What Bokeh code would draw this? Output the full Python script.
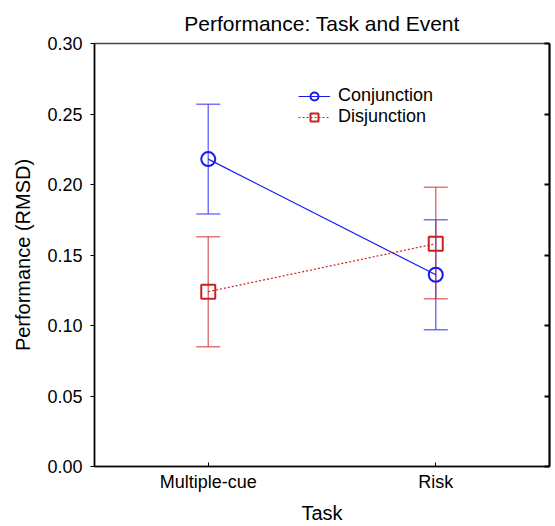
from bokeh.plotting import figure
from bokeh.models import (ColumnDataSource, Whisker, TeeHead, LinearAxis, Legend,
                          LegendItem, FixedTicker, NumeralTickFormatter, Range1d, FactorRange)
from bokeh.embed import file_html
from bokeh.resources import INLINE

# Mean RMSD per task, with error bar bounds
tasks = ["Multiple-cue", "Risk"]
conj_mean = [0.218, 0.136]
conj_low = [0.179, 0.097]
conj_high = [0.257, 0.175]
disj_mean = [0.124, 0.158]
disj_low = [0.085, 0.119]
disj_high = [0.163, 0.198]
y_ticks = [0.00, 0.05, 0.10, 0.15, 0.20, 0.25, 0.30]

FONT = "Liberation Sans"
BLUE = "#1a1aee"
RED = "#cc2020"

conj = ColumnDataSource(dict(task=tasks, mean=conj_mean, low=conj_low, high=conj_high))
disj = ColumnDataSource(dict(task=tasks, mean=disj_mean, low=disj_low, high=disj_high))

p = figure(width=555, height=526, x_range=FactorRange(*tasks, range_padding=0),
           y_range=Range1d(0, 0.30), output_backend="svg", toolbar_location=None,
           min_border_left=94, min_border_right=6, min_border_top=43, min_border_bottom=6)

p.title.text = "Performance: Task and Event"
p.title.align = "center"
p.title.text_font = FONT
p.title.text_font_size = "21px"
p.title.text_font_style = "normal"
p.title.text_color = "black"
p.title.standoff = 17

p.grid.visible = False
p.outline_line_color = "#444444"
p.outline_line_width = 1.5
p.background_fill_color = "white"
p.border_fill_color = "white"

# Left axis
ya = p.yaxis[0]
ya.ticker = FixedTicker(ticks=y_ticks)
ya.formatter = NumeralTickFormatter(format="0.00")
ya.axis_label = "Performance (RMSD)"
ya.axis_label_text_font = FONT
ya.axis_label_text_font_size = "20px"
ya.axis_label_text_font_style = "normal"
ya.axis_label_text_color = "black"
ya.axis_label_standoff = 10
ya.major_label_text_font = FONT
ya.major_label_text_font_size = "18px"
ya.major_label_text_color = "black"
ya.major_tick_in = 0
ya.major_tick_out = 4
ya.minor_tick_line_color = None
ya.axis_line_width = 1.5
ya.major_label_standoff = 8

# Right axis: inward ticks, no labels
ra = LinearAxis(ticker=FixedTicker(ticks=y_ticks), major_tick_in=5, major_tick_out=0,
                minor_tick_line_color=None,
                major_label_overrides={t: "" for t in y_ticks},
                axis_line_width=2, major_tick_line_width=2)
p.add_layout(ra, "right")

# Bottom axis
xa = p.xaxis[0]
xa.axis_label = "Task"
xa.axis_label_text_font = FONT
xa.axis_label_text_font_size = "20px"
xa.axis_label_text_font_style = "normal"
xa.axis_label_text_color = "black"
xa.major_label_text_font = FONT
xa.major_label_text_font_size = "18px"
xa.major_label_text_color = "black"
xa.major_tick_in = 4
xa.major_tick_out = 0
xa.axis_line_width = 1.5
xa.major_label_standoff = 5
xa.axis_label_standoff = 7

# Error bars
for src, col in ((conj, BLUE), (disj, RED)):
    w = Whisker(source=src, base="task", lower="low", upper="high", dimension="height",
                line_color=col, line_alpha=0.6, line_width=1.5,
                upper_head=TeeHead(size=24, line_color=col, line_alpha=0.6, line_width=1.5),
                lower_head=TeeHead(size=24, line_color=col, line_alpha=0.6, line_width=1.5))
    p.add_layout(w)

l1 = p.line("task", "mean", source=conj, line_color=BLUE, line_width=1.2)
m1 = p.scatter("task", "mean", source=conj, marker="circle", size=14, fill_color=None,
               line_color=BLUE, line_width=2)
l2 = p.line("task", "mean", source=disj, line_color=RED, line_width=1.2, line_dash="2 2")
m2 = p.scatter("task", "mean", source=disj, marker="square", size=14, fill_color=None,
               line_color=RED, line_width=2)

legend = Legend(items=[LegendItem(label="Conjunction", renderers=[l1, m1]),
                       LegendItem(label="Disjunction", renderers=[l2, m2])],
                location=(204, 339), border_line_color=None, background_fill_alpha=0,
                label_text_font=FONT, label_text_font_size="18px", label_text_color="black",
                glyph_width=32, glyph_height=20, label_height=20, spacing=0, padding=2,
                margin=0, label_standoff=8, label_text_baseline="middle")
p.add_layout(legend)

open("out.html", "w").write(file_html(p, INLINE))
